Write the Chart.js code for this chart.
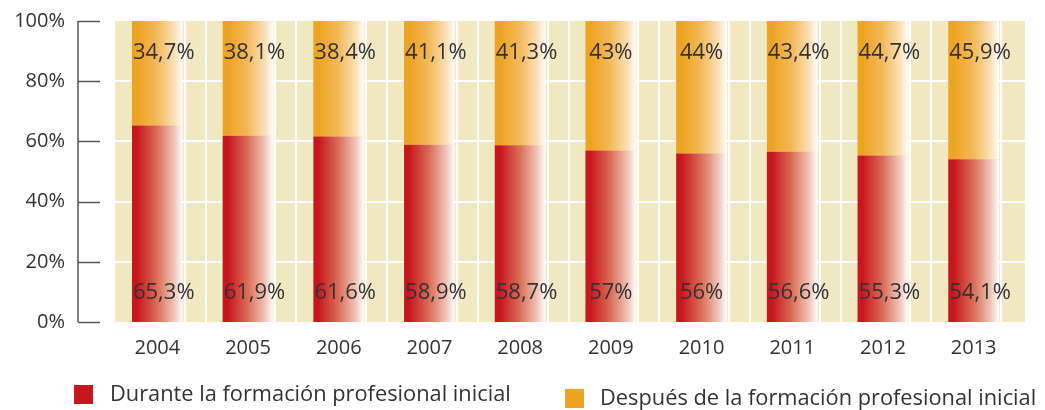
<!DOCTYPE html>
<html>
<head>
<meta charset="utf-8">
<script src="https://cdn.jsdelivr.net/npm/chart.js@4.4.0/dist/chart.umd.min.js"></script>
<style>
  html, body { margin: 0; padding: 0; background: #fff; }
  #wrap { position: relative; width: 1045px; height: 410px; }
</style>
</head>
<body>
<div id="wrap"><canvas id="myChart" width="1045" height="410"></canvas></div>
<script>
// data
const years = ['2004', '2005', '2006', '2007', '2008', '2009', '2010', '2011', '2012', '2013'];
const durante = [65.3, 61.9, 61.6, 58.9, 58.7, 57, 56, 56.6, 55.3, 54.1];
const despues = [34.7, 38.1, 38.4, 41.1, 41.3, 43, 44, 43.4, 44.7, 45.9];
const yTicks = [0, 20, 40, 60, 80, 100];
const seriesNames = ['Durante la formación profesional inicial', 'Después de la formación profesional inicial'];

const FONT = "'Open Sans', sans-serif";
const TXT = '#333333';
const BEIGE = '#f0e8c0';
const RED = '#c8161e';
const ORANGE = '#eea322';
const BAR_PCT = 0.56;

const fmt = v => String(v).replace('.', ',') + '%';

// horizontal gradient per bar, solid colour on the left fading to white
function barGradient(ctx, base, mid, light) {
    const chart = ctx.chart;
    const a = chart.chartArea;
    const xs = chart.scales.x;
    if (!a || !xs || ctx.dataIndex === undefined) return base;
    const cx = xs.getPixelForValue(ctx.dataIndex);
    const half = (a.right - a.left) / years.length * BAR_PCT / 2;
    if (!Number.isFinite(cx) || !Number.isFinite(half)) return base;
    const g = chart.ctx.createLinearGradient(cx - half, 0, cx + half, 0);
    g.addColorStop(0, base);
    g.addColorStop(0.1, base);
    g.addColorStop(0.5, mid);
    g.addColorStop(0.85, light);
    g.addColorStop(1, '#ffffff');
    return g;
}

const backdrop = {
    id: 'backdrop',
    beforeDatasetsDraw(chart) {
        const { ctx, chartArea: a, scales } = chart;
        const y = scales.y;
        ctx.save();
        ctx.fillStyle = BEIGE;
        ctx.fillRect(a.left + 3, a.top, a.right - a.left + 3, a.bottom - a.top);
        ctx.strokeStyle = '#ffffff';
        ctx.lineWidth = 2;
        // horizontal grid
        yTicks.slice(1, -1).forEach(t => {
            const py = Math.round(y.getPixelForValue(t));
            ctx.beginPath();
            ctx.moveTo(a.left + 3, py);
            ctx.lineTo(a.right + 6, py);
            ctx.stroke();
        });
        // vertical lines: category boundaries and the line just right of every bar
        const step = (a.right - a.left) / years.length;
        const meta = chart.getDatasetMeta(0);
        for (let i = 1; i < years.length; i++) {
            const px = Math.round(a.left + 3 + i * step);
            ctx.beginPath();
            ctx.moveTo(px, a.top);
            ctx.lineTo(px, a.bottom);
            ctx.stroke();
        }
        meta.data.forEach(bar => {
            const px = Math.round(bar.x + bar.width / 2) + 2;
            ctx.beginPath();
            ctx.moveTo(px, a.top);
            ctx.lineTo(px, a.bottom);
            ctx.stroke();
        });
        ctx.restore();
    },
    afterDraw(chart) {
        const { ctx, scales } = chart;
        const y = scales.y;
        ctx.save();
        // y axis line with tick marks
        ctx.strokeStyle = '#555555';
        ctx.lineWidth = 1.5;
        const ax = 78;
        ctx.beginPath();
        ctx.moveTo(ax, y.getPixelForValue(100));
        ctx.lineTo(ax, y.getPixelForValue(0));
        ctx.stroke();
        yTicks.forEach(t => {
            const py = Math.round(y.getPixelForValue(t)) + 0.5;
            ctx.beginPath();
            ctx.moveTo(ax, py);
            ctx.lineTo(100, py);
            ctx.stroke();
        });

        // value labels
        ctx.font = '22px ' + FONT;
        ctx.fillStyle = TXT;
        ctx.textBaseline = 'middle';
        ctx.textAlign = 'left';
        const m0 = chart.getDatasetMeta(0);
        m0.data.forEach((bar, i) => {
            const left = bar.x - bar.width / 2;
            [[despues[i], 89.4], [durante[i], 9.6]].forEach(([v, pos]) => {
                const s = fmt(v);
                const w = ctx.measureText(s).width;
                const tx = Math.max(left + 1, bar.x - w / 2);
                ctx.fillText(s, tx, y.getPixelForValue(pos));
            });
        });

        // legend
        ctx.font = '21.8px ' + FONT;
        ctx.fillStyle = RED;
        ctx.fillRect(74, 385, 19, 19);
        ctx.fillStyle = TXT;
        ctx.fillText(seriesNames[0], 110, 395);
        ctx.fillStyle = ORANGE;
        ctx.fillRect(565, 389, 19, 19);
        ctx.fillStyle = TXT;
        ctx.fillText(seriesNames[1], 600, 399);
        ctx.restore();
    }
};

new Chart(document.getElementById('myChart'), {
    type: 'bar',
    data: {
        labels: years,
        datasets: [{
            label: seriesNames[0],
            data: durante,
            backgroundColor: c => barGradient(c, RED, '#da6e58', '#f1cabe'),
            borderWidth: 0,
            barPercentage: BAR_PCT,
            categoryPercentage: 1
        }, {
            label: seriesNames[1],
            data: despues,
            backgroundColor: c => barGradient(c, ORANGE, '#f3ba5c', '#fbe2bc'),
            borderWidth: 0,
            barPercentage: BAR_PCT,
            categoryPercentage: 1
        }]
    },
    options: {
        responsive: false,
        animation: false,
        layout: { padding: { top: 21, right: 26, bottom: 0, left: 0 } },
        plugins: {
            legend: { display: false },
            tooltip: { enabled: false }
        },
        scales: {
            x: {
                stacked: true,
                grid: { display: false, drawTicks: false },
                border: { display: false },
                ticks: { color: TXT, font: { family: FONT, size: 20 }, padding: 14, maxRotation: 0 },
                afterFit: s => { s.height = 88; s.paddingLeft = 0; s.paddingRight = 0; }
            },
            y: {
                stacked: true,
                min: 0,
                max: 100,
                grid: { display: false, drawTicks: false },
                border: { display: false },
                ticks: {
                    stepSize: 20,
                    color: TXT,
                    font: { family: FONT, size: 20 },
                    padding: 47,
                    callback: v => v + '%'
                },
                afterFit: s => { s.width = 112; s.paddingTop = 0; s.paddingBottom = 0; }
            }
        }
    },
    plugins: [backdrop]
});
</script>
</body>
</html>
